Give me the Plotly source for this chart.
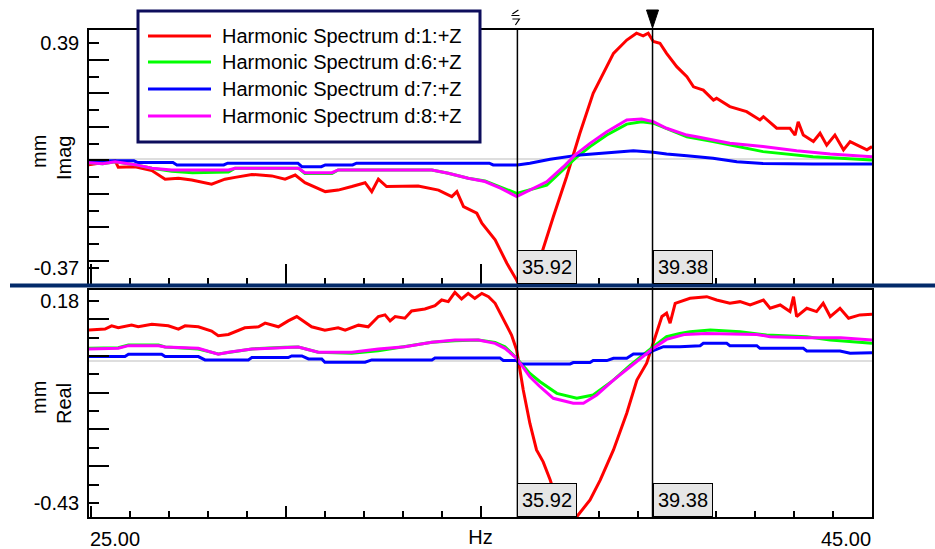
import plotly.graph_objects as go

# ---------------- data ----------------
series_names = ["Harmonic Spectrum d:1:+Z", "Harmonic Spectrum d:6:+Z",
                "Harmonic Spectrum d:7:+Z", "Harmonic Spectrum d:8:+Z"]
series_colors = ["#ff0000", "#00ff00", "#0000ff", "#ff00ff"]

# Imag (top panel)
imag_d1_hz = [24.93, 25.27, 25.62, 25.70, 26.13, 26.56, 26.90, 27.24, 27.58, 28.09,
              28.43, 28.69, 29.12, 29.63, 29.97, 30.23, 30.48, 31.00, 31.33, 31.68,
              32.02, 32.19, 32.36, 32.57, 33.38, 33.90, 34.24, 34.37, 34.54, 34.88,
              35.01, 35.35, 35.65, 35.90, 36.10, 36.30, 36.58, 36.84, 37.18, 37.52,
              37.86, 38.38, 38.72, 38.97, 39.14, 39.27, 39.40, 39.57, 39.74, 40.00,
              40.26, 40.43, 40.68, 40.94, 41.02, 41.36, 41.79, 42.13, 42.22, 42.56,
              42.90, 43.03, 43.11, 43.24, 43.50, 43.67, 43.84, 44.05, 44.27, 44.44,
              44.70, 44.87, 45.00]
imag_d1 = [-0.021, -0.015, -0.007, -0.029, -0.027, -0.040, -0.069, -0.066, -0.072, -0.086,
           -0.069, -0.063, -0.053, -0.058, -0.069, -0.055, -0.081, -0.111, -0.106, -0.094,
           -0.081, -0.111, -0.069, -0.094, -0.092, -0.106, -0.128, -0.111, -0.162, -0.184,
           -0.218, -0.274, -0.353, -0.410, -0.470, -0.420, -0.303, -0.196, -0.061, 0.086,
           0.221, 0.356, 0.401, 0.424, 0.415, 0.424, 0.396, 0.390, 0.356, 0.311,
           0.277, 0.243, 0.232, 0.198, 0.204, 0.176, 0.159, 0.131, 0.142, 0.103,
           0.103, 0.080, 0.125, 0.080, 0.058, 0.086, 0.046, 0.080, 0.030, 0.058,
           0.041, 0.030, 0.041]

imag_d6_hz = [24.93, 25.30, 25.62, 26.13, 26.56, 27.07, 27.60, 28.52, 28.69, 30.31,
              30.48, 31.17, 31.33, 33.73, 34.15, 34.66, 35.09, 35.50, 35.90, 36.67,
              37.40, 37.78, 38.21, 38.72, 39.10, 39.40, 40.26, 40.93, 42.21, 43.49,
              45.00]
imag_d6 = [-0.013, -0.017, -0.010, -0.020, -0.032, -0.042, -0.047, -0.045, -0.032, -0.032,
           -0.050, -0.050, -0.038, -0.038, -0.049, -0.066, -0.075, -0.097, -0.117, -0.089,
           0.001, 0.041, 0.080, 0.117, 0.125, 0.120, 0.074, 0.058, 0.024, 0.007,
           -0.004]

imag_d7_hz = [24.93, 26.10, 26.20, 27.10, 27.20, 28.40, 28.50, 30.30, 30.40, 30.90,
              31.00, 31.70, 31.80, 35.20, 35.30, 35.92, 36.24, 36.76, 37.52, 38.21,
              38.89, 39.40, 39.74, 40.26, 40.93, 41.54, 42.21, 43.49, 45.00]
imag_d7 = [-0.007, -0.007, -0.013, -0.013, -0.021, -0.021, -0.015, -0.015, -0.027, -0.027,
           -0.021, -0.021, -0.015, -0.015, -0.021, -0.021, -0.015, -0.002, 0.013, 0.020,
           0.027, 0.022, 0.016, 0.010, 0.0015, -0.010, -0.016, -0.018, -0.018]

imag_d8_hz = [24.93, 25.30, 25.62, 26.13, 26.56, 27.07, 28.52, 28.69, 30.31, 30.48,
              31.17, 31.33, 33.73, 34.15, 34.66, 35.09, 35.50, 35.90, 36.67, 37.10,
              37.40, 37.78, 38.21, 38.72, 39.10, 39.40, 39.74, 40.26, 40.51, 41.36,
              42.21, 43.07, 43.93, 45.00]
imag_d8 = [-0.013, -0.017, -0.010, -0.020, -0.032, -0.038, -0.038, -0.032, -0.032, -0.047,
           -0.047, -0.038, -0.038, -0.049, -0.066, -0.077, -0.100, -0.128, -0.078, -0.027,
           0.013, 0.052, 0.091, 0.131, 0.134, 0.125, 0.103, 0.080, 0.074, 0.052,
           0.041, 0.027, 0.016, 0.007]

# Real (bottom panel)
real_d1_hz = [24.93, 25.36, 25.53, 25.70, 26.04, 26.21, 26.56, 26.98, 27.24, 27.41,
              27.75, 28.09, 28.26, 28.52, 28.94, 29.29, 29.46, 29.80, 30.05, 30.27,
              30.65, 30.99, 31.33, 31.51, 31.85, 32.10, 32.36, 32.53, 32.66, 32.79,
              33.04, 33.21, 33.55, 33.81, 33.98, 34.15, 34.32, 34.49, 34.66, 34.83,
              35.01, 35.18, 35.35, 35.60, 35.77, 35.90, 36.07, 36.24, 36.41, 36.58,
              36.76, 37.00, 37.20, 37.44, 37.78, 38.04, 38.38, 38.72, 38.98, 39.23,
              39.40, 39.62, 39.74, 39.83, 39.96, 40.34, 40.77, 41.02, 41.36, 41.62,
              41.88, 42.22, 42.39, 42.65, 42.90, 42.99, 43.07, 43.33, 43.58, 43.75,
              43.93, 44.18, 44.40, 44.69, 45.00]
real_d1 = [0.092, 0.095, 0.105, 0.099, 0.107, 0.102, 0.110, 0.105, 0.095, 0.105,
           0.102, 0.089, 0.075, 0.079, 0.099, 0.102, 0.113, 0.102, 0.120, 0.133,
           0.102, 0.092, 0.099, 0.092, 0.107, 0.102, 0.133, 0.138, 0.120, 0.133,
           0.128, 0.150, 0.156, 0.166, 0.183, 0.178, 0.206, 0.186, 0.203, 0.188,
           0.203, 0.193, 0.173, 0.117, 0.077, 0.032, -0.089, -0.190, -0.270, -0.306,
           -0.361, -0.450, -0.490, -0.472, -0.421, -0.361, -0.270, -0.159, -0.059, -0.008,
           0.052, 0.133, 0.143, 0.113, 0.173, 0.188, 0.193, 0.183, 0.173, 0.178,
           0.168, 0.183, 0.158, 0.168, 0.148, 0.193, 0.133, 0.158, 0.148, 0.173,
           0.133, 0.158, 0.128, 0.138, 0.140]

real_d6_hz = [24.93, 25.70, 25.96, 26.73, 26.90, 27.75, 28.26, 28.52, 29.12, 29.97,
              30.31, 30.82, 31.68, 32.36, 33.04, 33.73, 34.32, 34.92, 35.35, 35.60,
              35.90, 36.24, 36.50, 36.93, 37.44, 37.86, 38.38, 38.81, 39.40, 39.74,
              40.08, 40.34, 40.86, 41.62, 42.30, 43.33, 43.93, 45.00]
real_d6 = [0.037, 0.039, 0.047, 0.047, 0.041, 0.035, 0.020, 0.024, 0.035, 0.040,
           0.041, 0.025, 0.022, 0.030, 0.042, 0.055, 0.060, 0.062, 0.055, 0.042,
           0.007, -0.039, -0.064, -0.099, -0.114, -0.104, -0.059, -0.014, 0.042, 0.072,
           0.082, 0.087, 0.092, 0.087, 0.077, 0.072, 0.062, 0.052]

real_d7_hz = [24.93, 25.87, 25.96, 26.81, 26.90, 27.75, 27.92, 29.03, 29.12, 30.05,
              30.14, 30.40, 30.57, 30.91, 30.99, 32.02, 32.19, 33.73, 33.81, 35.47,
              35.56, 35.90, 35.99, 37.27, 37.35, 37.78, 37.86, 38.21, 38.38, 38.72,
              38.89, 39.23, 39.40, 39.66, 40.08, 40.60, 40.68, 41.28, 41.36, 42.05,
              42.13, 43.24, 43.33, 44.18, 44.44, 45.00]
real_d7 = [0.012, 0.012, 0.019, 0.019, 0.012, 0.012, 0.002, 0.002, 0.009, 0.009,
           0.014, 0.014, 0.005, 0.005, -0.005, -0.005, 0.002, 0.002, 0.008, 0.008,
           0.000, 0.000, -0.010, -0.010, -0.006, -0.006, 0.000, 0.000, 0.007, 0.007,
           0.020, 0.020, 0.030, 0.042, 0.042, 0.045, 0.052, 0.052, 0.045, 0.045,
           0.037, 0.037, 0.029, 0.029, 0.022, 0.024]

real_d8_hz = [24.93, 25.70, 25.96, 26.73, 26.90, 27.75, 28.26, 28.52, 29.12, 29.97,
              30.31, 30.82, 31.68, 32.36, 33.04, 33.73, 34.32, 34.92, 35.35, 35.60,
              35.90, 36.24, 36.50, 36.84, 37.35, 37.61, 37.95, 38.38, 38.81, 39.40,
              39.74, 40.21, 40.77, 42.05, 42.39, 43.33, 44.20, 45.00]
real_d8 = [0.035, 0.037, 0.045, 0.045, 0.041, 0.037, 0.019, 0.025, 0.035, 0.039,
           0.041, 0.025, 0.025, 0.035, 0.042, 0.055, 0.062, 0.062, 0.052, 0.037,
           0.007, -0.049, -0.079, -0.114, -0.129, -0.129, -0.104, -0.059, -0.018, 0.037,
           0.064, 0.079, 0.082, 0.079, 0.072, 0.069, 0.069, 0.062]

cursor_hz = [35.92, 39.38]
x_label_vals = [25.0, 45.0]
imag_label_vals = [0.39, -0.37]
real_label_vals = [0.18, -0.43]

imag_sets = [(imag_d1_hz, imag_d1), (imag_d6_hz, imag_d6), (imag_d7_hz, imag_d7), (imag_d8_hz, imag_d8)]
real_sets = [(real_d1_hz, real_d1), (real_d6_hz, real_d6), (real_d7_hz, real_d7), (real_d8_hz, real_d8)]
for xs, ys in imag_sets + real_sets:
    assert len(xs) == len(ys), (len(xs), len(ys))

# ---------------- geometry helpers ----------------
W, H = 935, 549
ML, MR, MT, MB = 89, 63, 30, 32
PW, PH = W - ML - MR, H - MT - MB
def px_x(p):
    return (p - ML) / PW
def px_y(p):
    return (H - MB - p) / PH

FONT = "Arial, Liberation Sans, sans-serif"
AXC = "black"

fig = go.Figure()
for (xs, ys), name, col in zip(imag_sets, series_names, series_colors):
    fig.add_trace(go.Scatter(x=xs, y=ys, mode="lines", name=name, xaxis="x", yaxis="y",
                             line=dict(color=col, width=3), showlegend=False))
for (xs, ys), name, col in zip(real_sets, series_names, series_colors):
    fig.add_trace(go.Scatter(x=xs, y=ys, mode="lines", name=name, xaxis="x2", yaxis="y2",
                             line=dict(color=col, width=3), showlegend=False))

def y_ticks(top, bottom, step, n):
    short, long_ = [], []
    for k in range(n + 1):
        v = round(top - k * step, 5)
        (short if k % 2 == 0 else long_).append(v)
    short.append(bottom)
    long_ = [v for v in long_ if abs(v - bottom) > step * 0.3]
    vals = sorted(set(short))
    text = []
    for v in vals:
        if any(abs(v - lv) < 1e-6 for lv in (top, bottom)):
            text.append("%.2f" % v)
        else:
            text.append("")
    return vals, text, long_

iv, it, il = y_ticks(imag_label_vals[0], imag_label_vals[1], 0.0565, 13)
rv, rt, rl = y_ticks(real_label_vals[0], real_label_vals[1], 0.61 / 11, 11)

yax_common = dict(showline=True, linecolor=AXC, linewidth=1.5, mirror=True, ticks="inside",
                  ticklen=10, tickwidth=1.5, tickcolor=AXC, showgrid=False, zeroline=True,
                  zerolinecolor="#dedede", zerolinewidth=2, tickmode="array",
                  tickfont=dict(family=FONT, size=20, color="black"), ticklabelstandoff=4)

top_domain = [px_y(284), 1.0]
bot_domain = [0.0, px_y(290)]

fig.update_layout(
    width=W, height=H, template="none",
    margin=dict(l=ML, r=MR, t=MT, b=MB),
    paper_bgcolor="white", plot_bgcolor="white",
    font=dict(family=FONT, size=20, color="black"),
    showlegend=False,
    xaxis=dict(domain=[0, 1], anchor="y", range=[24.95, 45.0], showline=True, linecolor=AXC,
               linewidth=1.5, mirror=True, ticks="inside", tickmode="linear", tick0=25, dtick=5,
               ticklen=20, tickwidth=1.5, tickcolor=AXC, showticklabels=False, showgrid=False,
               zeroline=False,
               minor=dict(ticks="inside", tick0=25, dtick=1, ticklen=6, tickwidth=1.5, tickcolor=AXC)),
    xaxis2=dict(domain=[0, 1], anchor="y2", matches="x", range=[24.95, 45.0], showline=True,
                linecolor=AXC, linewidth=1.5, mirror=True, ticks="inside", tickmode="linear",
                tick0=25, dtick=5, ticklen=11, tickwidth=1.5, tickcolor=AXC, showticklabels=False,
                showgrid=False, zeroline=False,
                title=dict(text="Hz", font=dict(family=FONT, size=20), standoff=12),
                minor=dict(ticks="inside", tick0=25, dtick=1, ticklen=6, tickwidth=1.5, tickcolor=AXC)),
    xaxis3=dict(overlaying="x2", anchor="y2", side="top", matches="x", range=[24.95, 45.0],
                showline=False, ticks="inside", tickmode="linear", tick0=25, dtick=5, ticklen=20,
                tickwidth=1.5, tickcolor=AXC, showticklabels=False, showgrid=False, zeroline=False,
                minor=dict(ticks="inside", tick0=25, dtick=1, ticklen=5, tickwidth=1.5, tickcolor=AXC)),
    yaxis=dict(domain=top_domain, anchor="x", range=[-0.4232, 0.4349], tickvals=iv, ticktext=it,
               minor=dict(ticks="inside", tickmode="array", tickvals=il, ticklen=20,
                          tickwidth=1.5, tickcolor=AXC), **yax_common),
    yaxis2=dict(domain=bot_domain, anchor="x2", range=[-0.4726, 0.2132], tickvals=rv, ticktext=rt,
                minor=dict(ticks="inside", tickmode="array", tickvals=rl, ticklen=20,
                           tickwidth=1.5, tickcolor=AXC), **yax_common),
)

shapes = []
annotations = []

# cursor lines
for cx in cursor_hz:
    shapes.append(dict(type="line", xref="x", yref="paper", x0=cx, x1=cx, y0=0, y1=1,
                       line=dict(color="black", width=1.5)))
# cursor markers above the top panel
shapes.append(dict(type="path", xref="x", yref="paper", xsizemode="pixel", ysizemode="pixel",
                   xanchor=cursor_hz[1], yanchor=1.0,
                   path="M -6,20 L 6,20 L 0,2 Z", fillcolor="black", line=dict(color="black", width=1)))
shapes.append(dict(type="path", xref="x", yref="paper", xsizemode="pixel", ysizemode="pixel",
                   xanchor=cursor_hz[0], yanchor=1.0,
                   path="M 1,20 L -5,16 M -6,14.5 L 2,14.5 M -5,11 L 2,11 L -2,5",
                   line=dict(color="black", width=1.2)))

# cursor value boxes
for cx in cursor_hz:
    for yr in ("y domain", "y2 domain"):
        annotations.append(dict(text="%.2f" % cx, xref="x", x=cx, xanchor="left", yref=yr, y=0,
                                yanchor="bottom", showarrow=False, bgcolor="#e6e6e6",
                                bordercolor="black", borderwidth=1, borderpad=2, width=54, height=28,
                                font=dict(family=FONT, size=20, color="black")))

# separator band
shapes.append(dict(type="line", xref="paper", yref="paper", x0=px_x(10), x1=px_x(935),
                   y0=px_y(285.5), y1=px_y(285.5), line=dict(color="#032a6a", width=4)))

# axis titles (two rotated lines each)
for txt, cx, cy in (("mm", 39, 152), ("Imag", 64, 158), ("mm", 39, 398), ("Real", 64, 404)):
    annotations.append(dict(text=txt, xref="paper", yref="paper", x=px_x(cx), y=px_y(cy),
                            xanchor="center", yanchor="middle", textangle=-90, showarrow=False,
                            font=dict(family=FONT, size=20)))
# x tick labels at the ends
annotations.append(dict(text="%.2f" % x_label_vals[0], xref="paper", yref="paper", x=px_x(88),
                        xanchor="left", y=px_y(539), yanchor="middle", showarrow=False,
                        font=dict(family=FONT, size=20)))
annotations.append(dict(text="%.2f" % x_label_vals[1], xref="paper", yref="paper", x=px_x(873),
                        xanchor="right", y=px_y(539), yanchor="middle", showarrow=False,
                        font=dict(family=FONT, size=20)))

# custom legend
shapes.append(dict(type="rect", xref="paper", yref="paper", x0=px_x(138), x1=px_x(480),
                   y0=px_y(142), y1=px_y(11), fillcolor="white", line=dict(color="#0d0d5c", width=3)))
row_y = [36, 62, 89, 116]
for ry, name, col in zip(row_y, series_names, series_colors):
    shapes.append(dict(type="line", xref="paper", yref="paper", x0=px_x(148), x1=px_x(211),
                       y0=px_y(ry), y1=px_y(ry), line=dict(color=col, width=3)))
    annotations.append(dict(text=name, xref="paper", yref="paper", x=px_x(220), xanchor="left",
                            y=px_y(ry), yanchor="middle", showarrow=False,
                            font=dict(family=FONT, size=20, color="black")))

fig.update_layout(shapes=shapes, annotations=annotations)
fig.write_html("out.html")
